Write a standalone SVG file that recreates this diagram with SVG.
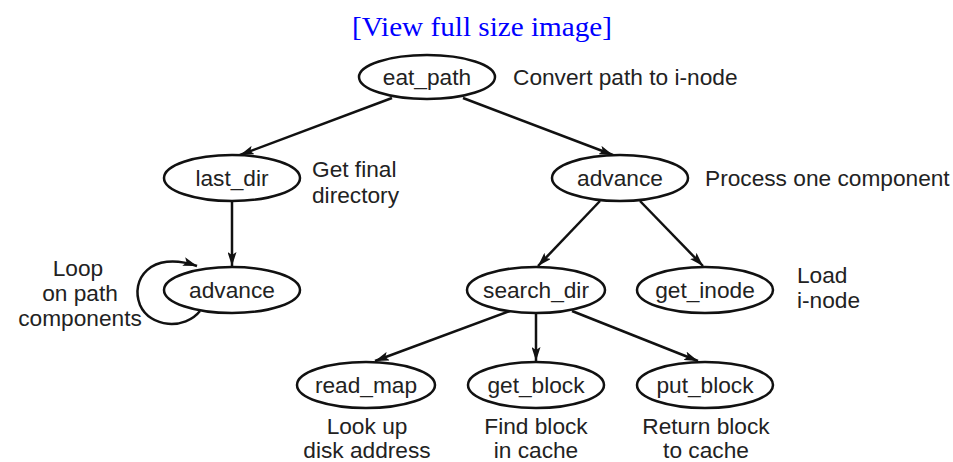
<svg xmlns="http://www.w3.org/2000/svg" width="953" height="462" viewBox="0 0 953 462">
<defs>
<marker id="ah" viewBox="0 0 14 9" refX="14" refY="4.5" markerWidth="14" markerHeight="9" markerUnits="userSpaceOnUse" orient="auto">
<path d="M0,0 L14,4.5 L0,9 L3,4.5 Z" fill="#111"/>
</marker>
</defs>
<style>
.n ellipse{fill:#fff;stroke:#111;stroke-width:2.5}
.n text,.lbl{font-family:"Liberation Sans",Arial,sans-serif;font-size:22.7px;fill:#222}
.n text{text-anchor:middle}
.c path{fill:none;stroke:#111;stroke-width:2.5;marker-end:url(#ah)}
.mid{text-anchor:middle}
</style>
<rect width="953" height="462" fill="#fff"/>
<text x="482" y="36" text-anchor="middle" font-family="Liberation Serif,Times New Roman,serif" font-size="27" fill="#0000ff" textLength="260" lengthAdjust="spacingAndGlyphs">[View full size image]</text>
<g class="c" id="connectors">
<path d="M392,98 L240,155"/>
<path d="M463,98 L613,155"/>
<path d="M232,201 L232,266"/>
<path d="M600,201 L538,266"/>
<path d="M640,201 L703,266"/>
<path d="M510,311 L375,361"/>
<path d="M536,313 L536,361"/>
<path d="M572,311 L698,361"/>
<path d="M200,311 C185,330 150,328 140,305 C130,280 150,250 197,266"/>
</g>
<g class="n" id="eat_path"><ellipse cx="427" cy="77" rx="68" ry="22"/><text x="427" y="85">eat_path</text></g>
<g class="n" id="last_dir"><ellipse cx="232" cy="178" rx="68" ry="23"/><text x="232" y="186">last_dir</text></g>
<g class="n" id="advance_loop"><ellipse cx="232" cy="290" rx="68" ry="23"/><text x="232" y="298">advance</text></g>
<g class="n" id="advance"><ellipse cx="620" cy="178" rx="68" ry="23"/><text x="620" y="186">advance</text></g>
<g class="n" id="search_dir"><ellipse cx="536" cy="290" rx="69" ry="23"/><text x="536" y="298">search_dir</text></g>
<g class="n" id="get_inode"><ellipse cx="705" cy="290" rx="68" ry="23"/><text x="705" y="298">get_inode</text></g>
<g class="n" id="read_map"><ellipse cx="366" cy="385" rx="69" ry="23"/><text x="366" y="393">read_map</text></g>
<g class="n" id="get_block"><ellipse cx="536" cy="385" rx="68" ry="23"/><text x="536" y="393">get_block</text></g>
<g class="n" id="put_block"><ellipse cx="705" cy="385" rx="68" ry="23"/><text x="705" y="393">put_block</text></g>
<g id="labels">
<text class="lbl" x="513" y="85">Convert path to i-node</text>
<text class="lbl" x="312" y="177">Get final</text>
<text class="lbl" x="312" y="203">directory</text>
<text class="lbl" x="705" y="186">Process one component</text>
<text class="lbl" x="797" y="283">Load</text>
<text class="lbl" x="797" y="308">i-node</text>
<text class="lbl mid" x="78" y="276">Loop</text>
<text class="lbl mid" x="80" y="301">on path</text>
<text class="lbl mid" x="80" y="326">components</text>
<text class="lbl mid" x="367" y="434">Look up</text>
<text class="lbl mid" x="367" y="458">disk address</text>
<text class="lbl mid" x="536" y="434">Find block</text>
<text class="lbl mid" x="536" y="458">in cache</text>
<text class="lbl mid" x="706" y="434">Return block</text>
<text class="lbl mid" x="706" y="458">to cache</text>
</g>
</svg>
